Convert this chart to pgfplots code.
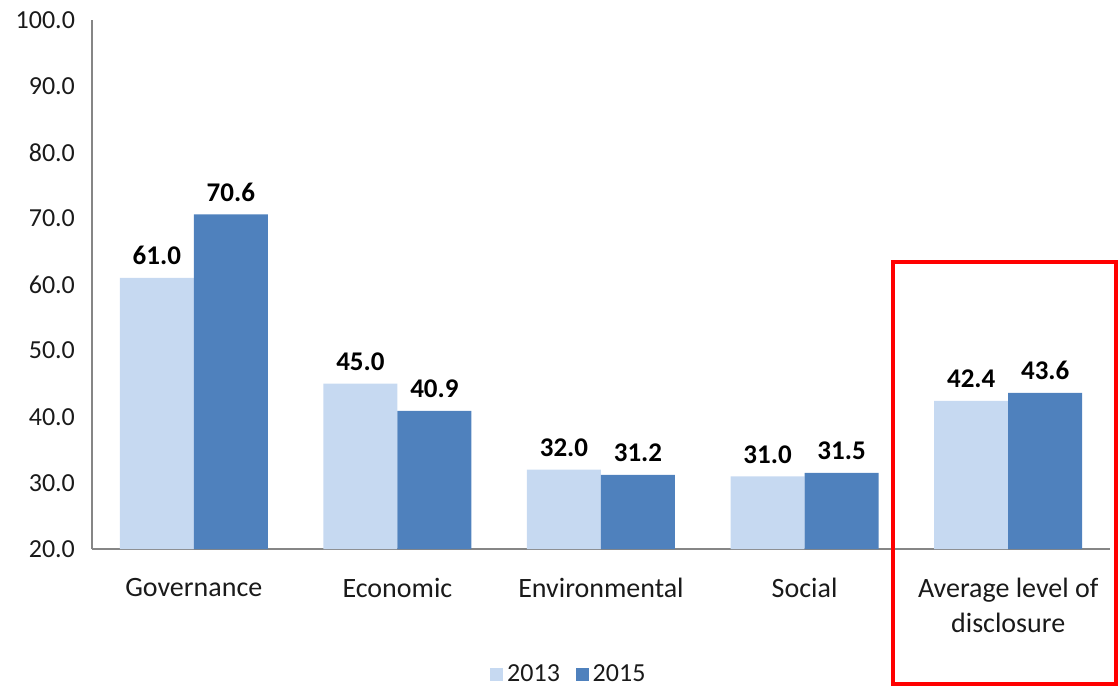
\documentclass[border=0pt]{standalone}
\usepackage{pgfplots}
\pgfplotsset{compat=1.18}
\usepackage{fontspec}
\setmainfont{Carlito}
\definecolor{c2013}{HTML}{C6D9F1}
\definecolor{c2015}{HTML}{4F81BD}
\definecolor{axgray}{HTML}{868686}
\definecolor{txt}{HTML}{1A1A1A}
\begin{document}
\begin{tikzpicture}
\useasboundingbox (-46pt,-68.5pt) rectangle (514pt,274.5pt);
\begin{axis}[
  scale only axis,
  width=509pt, height=264.5pt,
  ymin=20, ymax=100,
  ytick={20,30,...,100},
  xmin=-0.5, xmax=4.5,
  xtick={0,1,2,3,4},
  xticklabels={Governance,Economic,Environmental,Social,{Average level of\\disclosure}},
  xticklabel style={align=center, font=\fontsize{14}{17.5}\selectfont, text=txt, yshift=-11pt},
  yticklabel style={font=\fontsize{13}{15}\selectfont, text=txt, xshift=-5pt},
  /pgf/number format/assume math mode=true,
  yticklabel={\pgfmathprintnumber[fixed,fixed zerofill,precision=1]{\tick}},
  axis x line*=bottom, axis y line*=left,
  axis line style={-, axgray, line width=0.6pt},
  major tick length=0pt,
  ybar=0pt, bar width=37pt,
  clip=false,
  nodes near coords,
  every node near coord/.append style={font=\bfseries\fontsize{13.5}{15}\selectfont, text=black, yshift=3pt,
     /pgf/number format/.cd, fixed, fixed zerofill, precision=1, assume math mode=true},
  legend columns=2,
  legend style={at={(0.4695,-0.2365)}, anchor=center, draw=none, fill=none,
     font=\fontsize{13}{15}\selectfont, text=txt,
     /tikz/every even column/.append style={column sep=6pt}},
  legend image code/.code={\fill[#1] (0pt,-3.2pt) rectangle (6.4pt,3.2pt);},
]
\addplot[fill=c2013, draw=none] coordinates {(0,61.0) (1,45.0) (2,32.0) (3,31.0) (4,42.4)};
\addplot[fill=c2015, draw=none] coordinates {(0,70.6) (1,40.9) (2,31.2) (3,31.5) (4,43.6)};
\legend{2013,2015}
\draw[red, line width=2pt] (axis cs:3.433,-0.49) rectangle (axis cs:4.53,63.4);
\end{axis}
\end{tikzpicture}
\end{document}
